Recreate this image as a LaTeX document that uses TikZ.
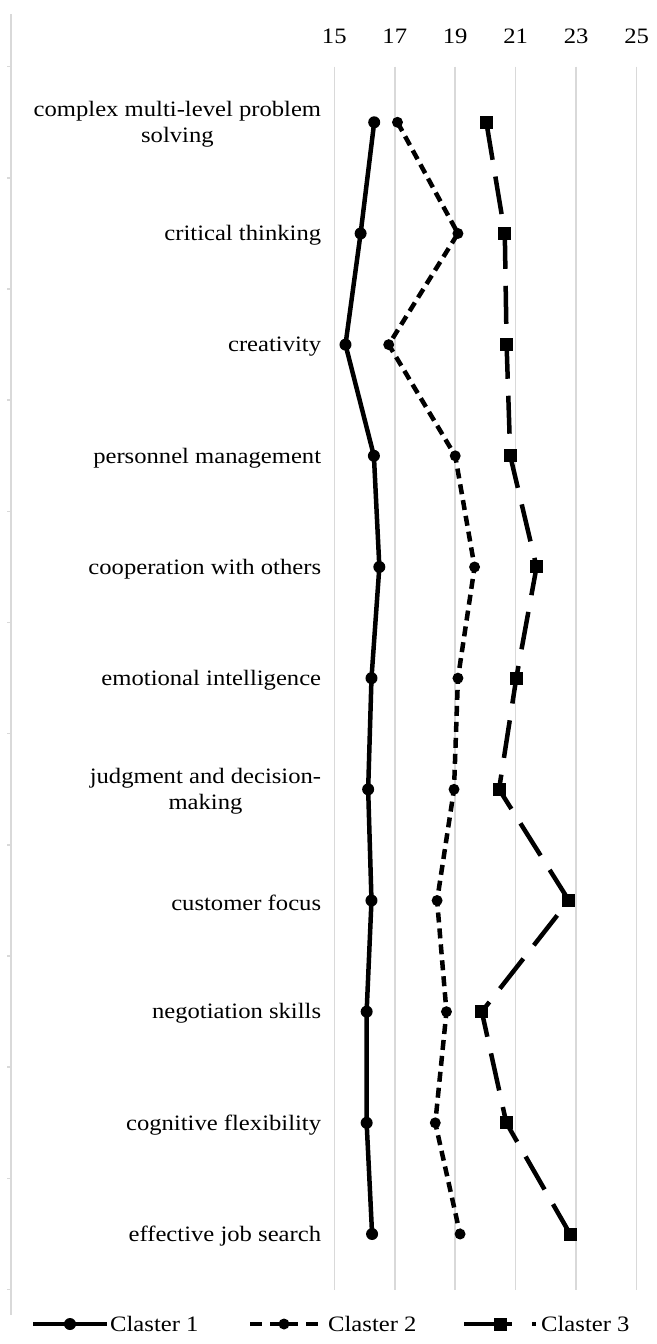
\documentclass[tikz,border=0pt]{standalone}
\usepackage{fontspec}
\setmainfont{Liberation Serif}[FakeStretch=1.12]
\usetikzlibrary{positioning}
\definecolor{gridgray}{HTML}{D9D9D9}

\begin{document}
\begin{tikzpicture}[x=1pt, y=-1pt,
    gridLine/.style={draw=gridgray, line width=1.5pt},
    axisLabel/.style={font=\fontsize{22}{26}\selectfont, inner sep=0pt},
    catLabel/.style={font=\fontsize{22}{26}\selectfont, align=center, anchor=east, inner sep=0pt, xshift=-13pt, yshift=-2pt},
    legText/.style={font=\fontsize{22}{26}\selectfont, anchor=west, inner sep=0pt},
    clOneLine/.style={line width=4.5pt, line join=round},
    clTwoLine/.style={line width=4.5pt, line join=round, dash pattern=on 10pt off 6pt},
    clThreeLine/.style={line width=4.5pt, line join=round, dash pattern=on 38pt off 17pt},
    dotMark/.style={circle, fill=black, inner sep=0pt, minimum size=12pt},
    smallDotMark/.style={circle, fill=black, inner sep=0pt, minimum size=11pt},
    sqMark/.style={rectangle, fill=black, inner sep=0pt, minimum size=13pt}
]
    \useasboundingbox (0,0) rectangle (656,1344);
    \fill[white] (0,0) rectangle (656,1344);

    \draw[gridLine] (11,14) -- (11,1315);
    \foreach \i in {0,...,11}
        \draw[gridLine] (7,{66.7+\i*111.17}) -- (11,{66.7+\i*111.17});

    \begin{scope}[x=30.23pt, y=-111.17pt, shift={(-119.15pt,-11.13pt)}]
        \foreach \v in {15,17,...,25} {
            \coordinate (g\v) at (\v,0.5);
            \draw[gridLine] (g\v) -- (\v,11.5);
            \node[axisLabel, above=23pt of g\v, anchor=base] (t\v) {\v};
        }

        \node[catLabel] (k1) at (15,1) {complex multi-level problem\\solving};
        \node[catLabel] (k2) at (15,2) {critical thinking};
        \node[catLabel] (k3) at (15,3) {creativity};
        \node[catLabel] (k4) at (15,4) {personnel management};
        \node[catLabel] (k5) at (15,5) {cooperation with others};
        \node[catLabel] (k6) at (15,6) {emotional intelligence};
        \node[catLabel] (k7) at (15,7) {judgment and decision-\\making};
        \node[catLabel] (k8) at (15,8) {customer focus};
        \node[catLabel] (k9) at (15,9) {negotiation skills};
        \node[catLabel] (k10) at (15,10) {cognitive flexibility};
        \node[catLabel] (k11) at (15,11) {effective job search};

        \foreach \v [count=\i] in {16.32,15.87,15.37,16.31,16.49,16.23,16.12,16.23,16.07,16.07,16.25}
            \coordinate (a\i) at (\v,\i);
        \foreach \v [count=\i] in {17.09,19.09,16.80,19.00,19.64,19.09,18.96,18.40,18.71,18.34,19.16}
            \coordinate (b\i) at (\v,\i);
        \foreach \v [count=\i] in {20.03,20.64,20.70,20.82,21.69,21.02,20.45,22.76,19.88,20.69,22.80}
            \coordinate (c\i) at (\v,\i);
    \end{scope}

    \draw[clOneLine] (a1) \foreach \i in {2,...,11} { -- (a\i) };
    \draw[clTwoLine] (b1) \foreach \i in {2,...,11} { -- (b\i) };
    \draw[clThreeLine] (c1) \foreach \i in {2,...,11} { -- (c\i) };

    \foreach \i in {1,...,11} {
        \node[dotMark] (ma\i) at (a\i) {};
        \node[smallDotMark] (mb\i) at (b\i) {};
        \node[sqMark] (mc\i) at (c\i) {};
    }

    % legend
    \coordinate (la1) at (33,1324);
    \coordinate (la2) at (107,1324);
    \draw[clOneLine] (la1) -- (la2);
    \node[dotMark] (lma) at (70,1324) {};
    \node[legText, right=3pt of la2] (lta) {Claster 1};

    \coordinate (lb1) at (250,1324);
    \coordinate (lb2) at (318,1324);
    \draw[line width=4.5pt, dash pattern=on 12pt off 8pt on 28pt off 8pt on 12pt] (lb1) -- (lb2);
    \node[smallDotMark] (lmb) at (284,1324) {};
    \node[legText, right=10pt of lb2] (ltb) {Claster 2};

    \coordinate (lc1) at (464,1324);
    \coordinate (lc2) at (536,1324);
    \draw[line width=4.5pt, dash pattern=on 48pt off 20pt] (lc1) -- (lc2);
    \node[sqMark] (lmc) at (500,1324) {};
    \node[legText, right=5pt of lc2] (ltc) {Claster 3};
\end{tikzpicture}
\end{document}
